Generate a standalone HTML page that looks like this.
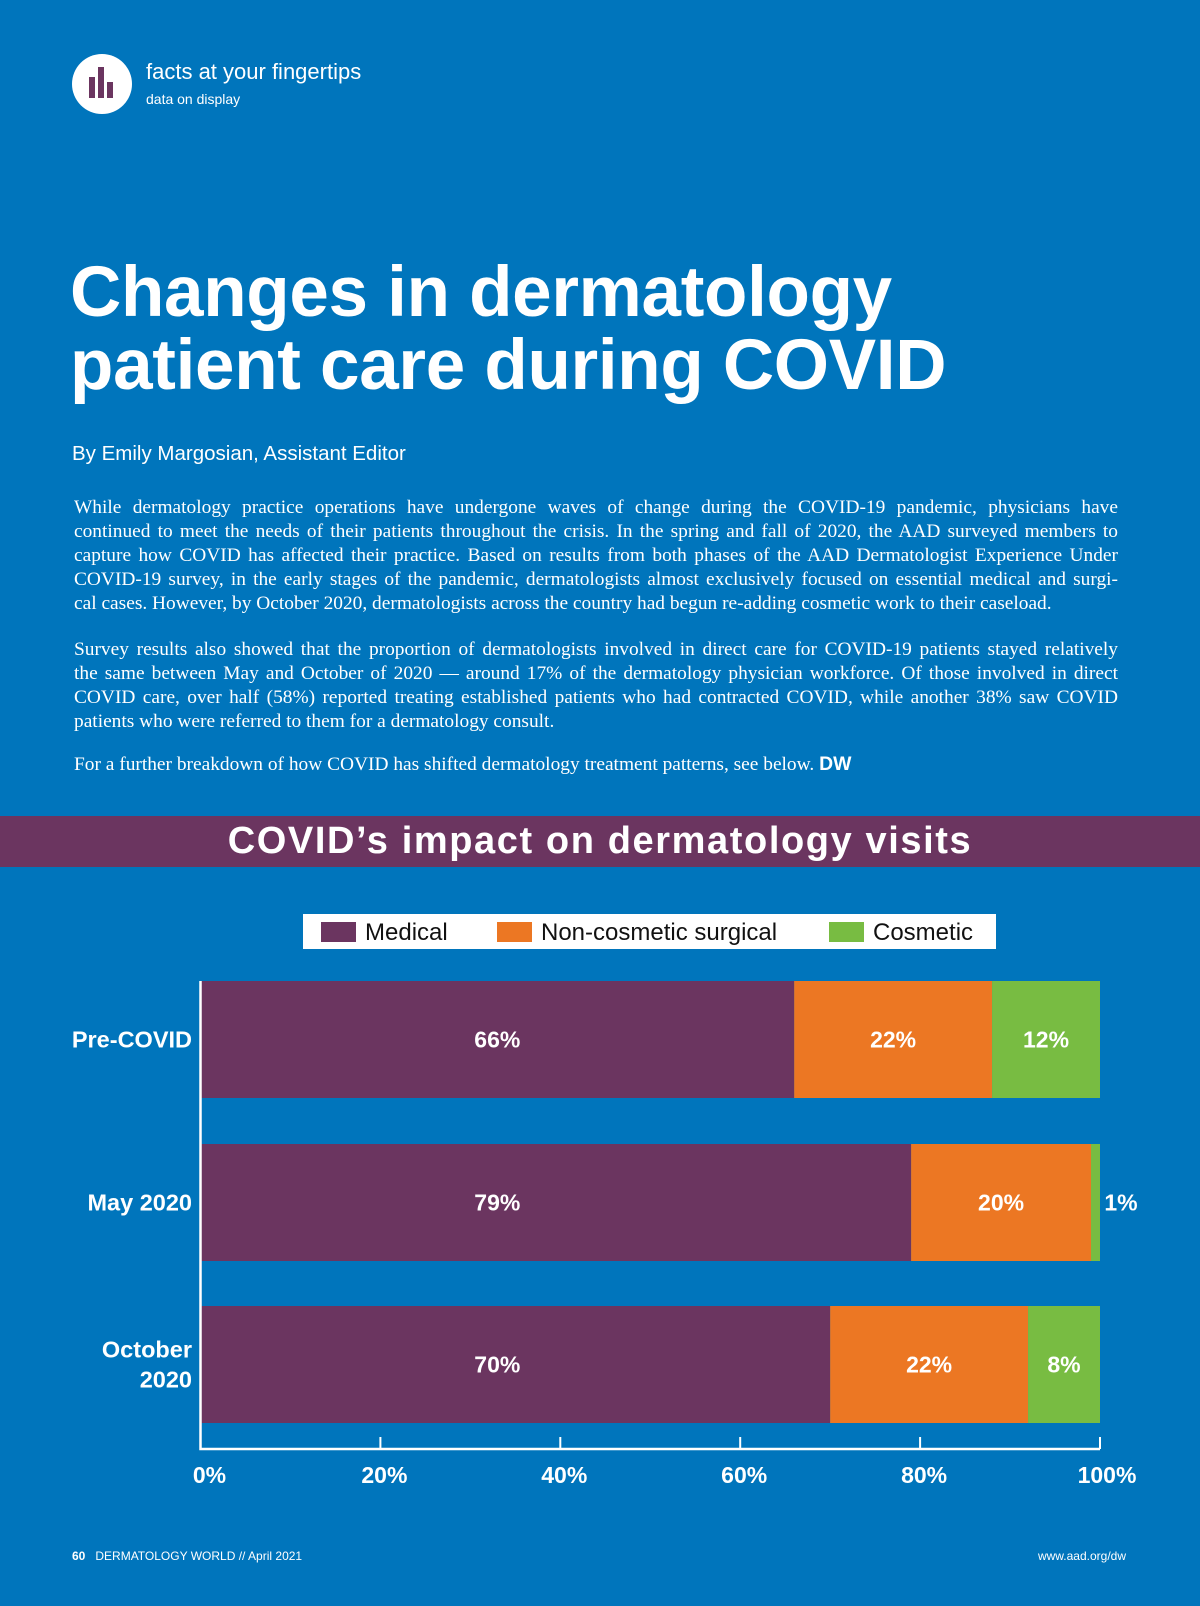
<!DOCTYPE html>
<html><head><meta charset="utf-8"><style>
body{margin:0;width:1200px;height:1606px;background:#0075bc;overflow:hidden;position:relative;font-family:"Liberation Sans",sans-serif;color:#fff}
.abs{position:absolute;white-space:nowrap}
.title{font-weight:bold;font-size:71px;left:70px;letter-spacing:-0.3px}
.p{position:absolute;left:74px;width:1044px;font-family:"Liberation Serif",serif;font-size:19.4px;line-height:24px}
.p div{white-space:nowrap;text-align-last:justify;text-align:justify;overflow:hidden;height:24px}
.p div.l{text-align-last:left}
</style></head><body>
<svg class="abs" style="left:72px;top:54px" width="62" height="62"><circle cx="30" cy="30" r="30" fill="#fff"/><rect x="17" y="23" width="6" height="21" fill="#6b3560"/><rect x="26" y="13" width="6" height="31" fill="#6b3560"/><rect x="35" y="28" width="6" height="16" fill="#6b3560"/></svg>
<div class="abs" style="left:146px;top:59px;font-size:22px">facts at your fingertips</div>
<div class="abs" style="left:146px;top:91px;font-size:14px">data on display</div>
<div class="abs title" style="top:252px">Changes in dermatology</div>
<div class="abs title" style="top:325px">patient care during COVID</div>
<div class="abs" style="left:72px;top:442px;font-size:20.5px">By Emily Margosian, Assistant Editor</div>
<div class="p" style="top:496px">
<div>While dermatology practice operations have undergone waves of change during the COVID-19 pandemic, physicians have</div>
<div>continued to meet the needs of their patients throughout the crisis. In the spring and fall of 2020, the AAD surveyed members to</div>
<div>capture how COVID has affected their practice. Based on results from both phases of the AAD Dermatologist Experience Under</div>
<div>COVID-19 survey, in the early stages of the pandemic, dermatologists almost exclusively focused on essential medical and surgi-</div>
<div class="l">cal cases. However, by October 2020, dermatologists across the country had begun re-adding cosmetic work to their caseload.</div>
</div>
<div class="p" style="top:638px">
<div>Survey results also showed that the proportion of dermatologists involved in direct care for COVID-19 patients stayed relatively</div>
<div>the same between May and October of 2020 — around 17% of the dermatology physician workforce. Of those involved in direct</div>
<div>COVID care, over half (58%) reported treating established patients who had contracted COVID, while another 38% saw COVID</div>
<div class="l">patients who were referred to them for a dermatology consult.</div>
</div>
<div class="p" style="top:752px"><div class="l">For a further breakdown of how COVID has shifted dermatology treatment patterns, see below. <b style="font-family:'Liberation Sans',sans-serif">DW</b></div></div>
<div class="abs" style="left:0;top:816px;width:1200px;height:51px;background:#6b3560;text-align:center;font-size:38px;font-weight:bold;line-height:51px;letter-spacing:1.6px">COVID’s impact on dermatology visits</div>
<svg class="abs" style="left:0;top:900px" width="1200" height="600" id="chart"></svg>
<div class="abs" style="left:72px;top:1549px;font-size:12px"><b>60</b>&nbsp;&nbsp; DERMATOLOGY WORLD // April 2021</div>
<div class="abs" style="right:74px;top:1549px;font-size:12px">www.aad.org/dw</div>
<script>
const categories=["Pre-COVID","May 2020","October 2020"];
const medical=[66,79,70];
const surgical=[22,20,22];
const cosmetic=[12,1,8];
const ticks=[0,20,40,60,80,100];
const seriesNames=["Medical","Non-cosmetic surgical","Cosmetic"];
const colors=["#6b3560","#ec7723","#78bc42"];
const NS="http://www.w3.org/2000/svg";
const svg=document.getElementById('chart');
const OY=900;
const x=v=>200.5+v*(1100-200.5)/100;
const barTop=[981,1144,1306], barH=117;
const y=i=>barTop[i]-OY;
function mk(t,a,txt){const e=document.createElementNS(NS,t);for(const k in a)e.setAttribute(k,a[k]);if(txt!==undefined)e.textContent=txt;svg.appendChild(e);return e;}
let lg=mk('rect',{x:303,y:14,width:693,height:35,fill:'#fff'});


const lx=[321,497,829];
seriesNames.forEach((n,i)=>{
 let s=mk('rect',{x:lx[i],y:22,width:35,height:20,fill:colors[i]});
 
 
 let t=mk('text',{x:lx[i]+44,y:40,fill:'#111','font-size':24},n);
 
 
});
const data=[medical,surgical,cosmetic];
const minMed=Math.min(...medical);
categories.forEach((c,i)=>{
 let acc=0;
 data.forEach((ser,k)=>{
  const v=ser[i];
  let r=mk('rect',{x:x(acc),y:y(i),width:x(acc+v)-x(acc),height:barH,fill:colors[k]});
  
  
  let cx=(x(acc)+x(acc+v))/2, ty=y(i)+barH/2+8;
  if(k==0){cx=x(minMed/2)+(v>72&&v<75?5:0);}
  if(v<3){cx=x(acc+v)+21;}
  let t=mk('text',{x:cx,y:ty,fill:'#fff','font-size':23,'font-weight':'bold','text-anchor':'middle'},v+'%');
  
  
  acc+=v;
 });
 const parts=c==="October 2020"?["October","2020"]:[c];
 parts.forEach((p,j)=>{
  let t=mk('text',{x:192,y:y(i)+barH/2+8+(parts.length>1?(j-0.5)*30:0),fill:'#fff','font-size':23.5,'font-weight':'bold','text-anchor':'end'},p);
  
  
 });
});
let ax=mk('path',{d:`M${x(0)} ${y(0)}V${1449-OY}H${x(100)}`,stroke:'#fff','stroke-width':2.5,fill:'none'});


ticks.forEach(v=>{
 let l=mk('line',{x1:x(v),x2:x(v),y1:1449-OY,y2:1437-OY,stroke:'#fff','stroke-width':2});
 
 
 let t=mk('text',{x:x(v)+(v==0?9:v==100?7:4),y:1483-OY,fill:'#fff','font-size':23,'font-weight':'bold','text-anchor':'middle'},v+'%');
 
 
});
</script>
</body></html>
